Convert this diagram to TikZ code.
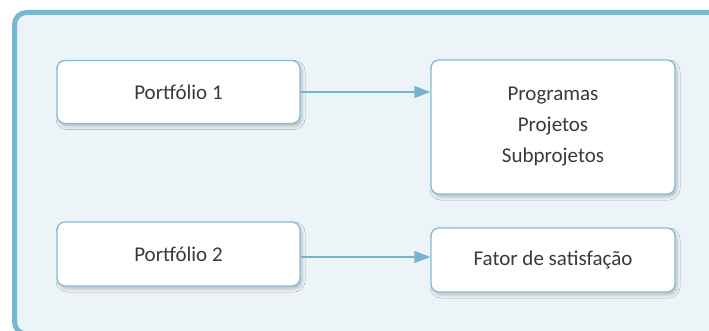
\documentclass[tikz,border=0pt]{standalone}
\usepackage{fontspec}
\setmainfont{Carlito}
\usetikzlibrary{arrows.meta,shadows.blur}
\definecolor{framebd}{HTML}{78B6D2}
\definecolor{framebg}{HTML}{EDF4F8}
\definecolor{boxbd}{HTML}{86BED7}
\definecolor{arrowc}{HTML}{74B4D1}
\definecolor{txt}{HTML}{3A3A3A}
\tikzset{
  box/.style={draw=boxbd, line width=1.4pt, fill=white, rounded corners=8pt,
    minimum width=243pt, inner sep=0pt, align=center, text=txt,
    font=\fontsize{21}{31}\selectfont,
    blur shadow={shadow xshift=2pt, shadow yshift=-3pt, shadow blur radius=3pt, shadow opacity=22}},
  link/.style={draw=arrowc, line width=1.4pt, -{Triangle[length=16pt,width=12pt]}}
}
\begin{document}
\begin{tikzpicture}[x=1pt,y=-1pt]
\useasboundingbox (0,0) rectangle (709,331);
\begin{scope}
\clip (0,0) rectangle (709,331);
\draw[draw=framebd, fill=framebg, line width=5pt, rounded corners=12pt] (14.5,12.5) rectangle (730,334);
\end{scope}
\node[box, minimum height=63pt] (p1) at (178.5,92) {Portfólio 1};
\node[box, minimum height=64pt] (p2) at (178.5,254) {Portfólio 2};
\node[box, minimum width=244pt, minimum height=134pt] (r1) at (553,127) {Programas\\Projetos\\Subprojetos};
\node[box, minimum width=244pt, minimum height=64pt] (f) at (553,260) {Fator de satisfação};
\draw[link] (p1.east) -- (p1.east -| r1.west);
\draw[link] ([yshift=-3pt]p2.east) -- ([yshift=3pt]f.west);
\end{tikzpicture}
\end{document}
